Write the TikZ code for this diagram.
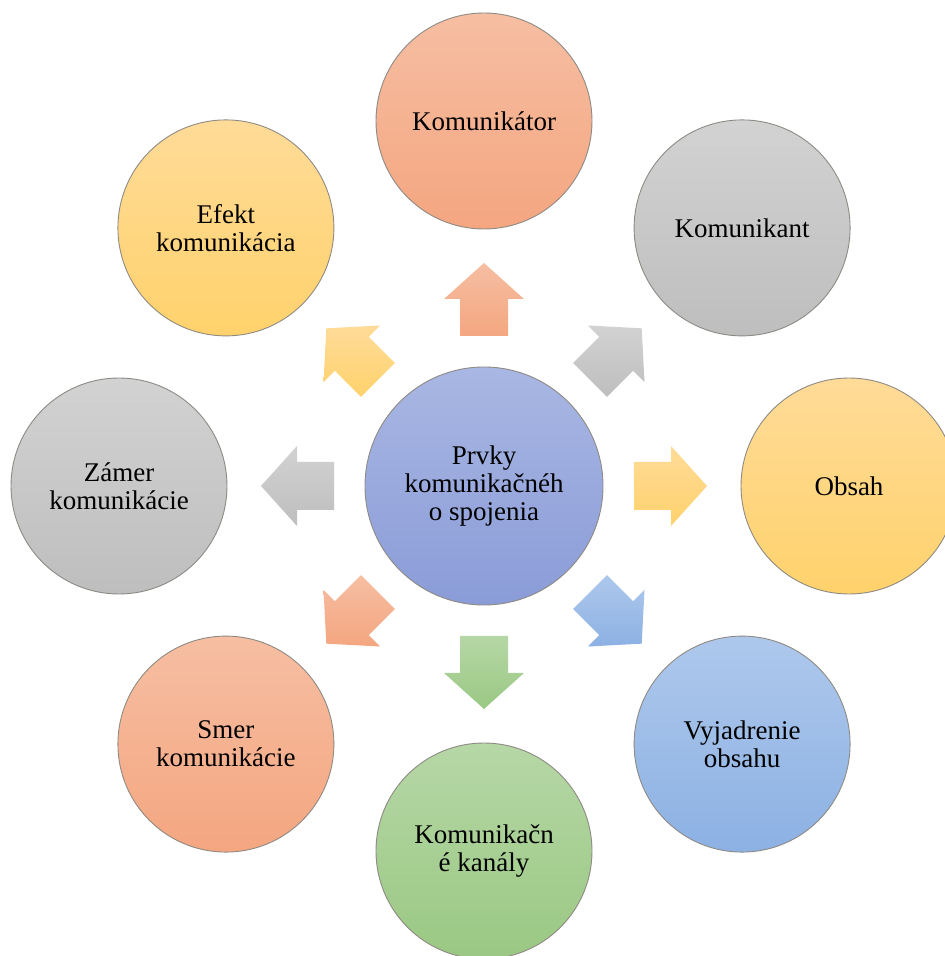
\documentclass[tikz,border=0pt]{standalone}
\usepackage{fontspec}
\setmainfont{Liberation Serif}
\usetikzlibrary{calc}

% fill colours: a lighter top and a darker bottom for each family
\definecolor{orgT}{HTML}{F6BEA2}\definecolor{orgB}{HTML}{F4A680}
\definecolor{gryT}{HTML}{D2D2D2}\definecolor{gryB}{HTML}{BEBEBE}
\definecolor{ylwT}{HTML}{FFDB98}\definecolor{ylwB}{HTML}{FFD26C}
\definecolor{bluT}{HTML}{AEC8EC}\definecolor{bluB}{HTML}{8CB1E3}
\definecolor{grnT}{HTML}{B6D7A6}\definecolor{grnB}{HTML}{9AC883}
\definecolor{cenT}{HTML}{A9B7E3}\definecolor{cenB}{HTML}{8A9CD8}
\definecolor{rim}{HTML}{8E8A84}

\begin{document}
\begin{tikzpicture}[x=1pt,y=1pt,
  bubble/.style={circle, draw=rim, line width=0.9pt, inner sep=0pt,
    minimum size=216pt, align=center, shading=axis,
    top color=#1T, bottom color=#1B,
    font=\fontsize{27}{28}\selectfont},
  hub/.style={bubble=#1, minimum size=238pt}]
  \useasboundingbox (0,0) rectangle (945,956);

  % central element
  \node[hub=cen] (c) at (484,470) {Prvky\\komunikačnéh\\o spojenia};

  % surrounding elements, 365pt from the centre
  \node[bubble=org] (kor) at ($(c)+(90:365)$)   {Komunikátor};
  \node[bubble=gry] (kant) at ($(c)+(45:365)$)  {Komunikant};
  \node[bubble=ylw] (obs) at ($(c)+(0:365)$)    {Obsah};
  \node[bubble=blu] (vyj) at ($(c)+(-45:365)$)  {Vyjadrenie\\obsahu};
  \node[bubble=grn] (kan) at ($(c)+(-90:365)$)  {Komunikačn\\é kanály};
  \node[bubble=org] (smr) at ($(c)+(-135:365)$) {Smer\\komunikácie};
  \node[bubble=gry] (zam) at ($(c)+(180:365)$)  {Zámer\\komunikácie};
  \node[bubble=ylw] (efk) at ($(c)+(135:365)$)  {Efekt\\komunikácia};

  % block arrows from the centre towards each element
  \foreach \a/\col in {90/org,45/gry,0/ylw,-45/blu,-90/grn,-135/org,180/gry,135/ylw}{
    \begin{scope}[shift={(c)}, rotate=\a]
      \shade[top color=\col T, bottom color=\col B]
        (150,-24) -- (187,-24) -- (187,-40) -- (223,0)
        -- (187,40) -- (187,24) -- (150,24) -- cycle;
    \end{scope}
  }
\end{tikzpicture}
\end{document}
